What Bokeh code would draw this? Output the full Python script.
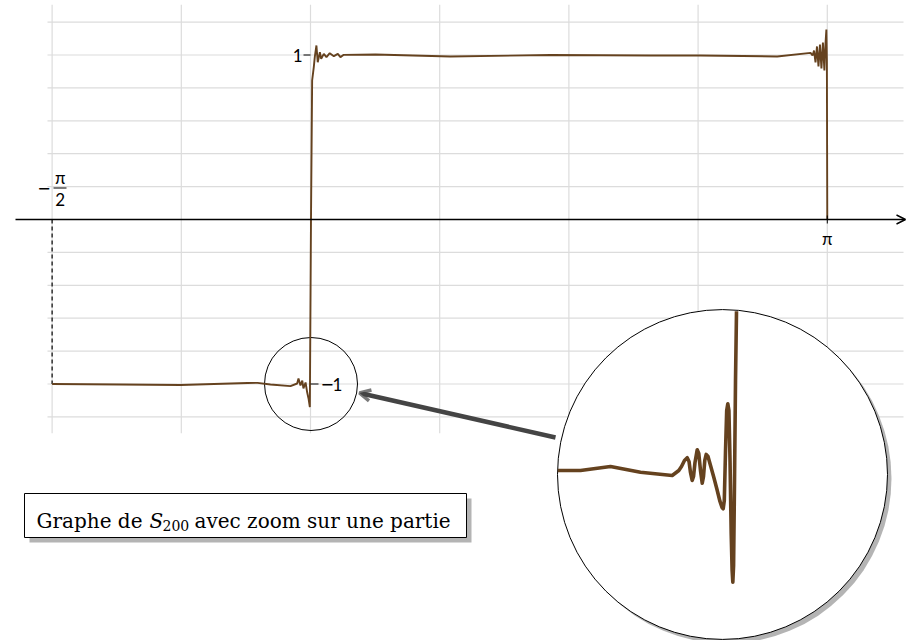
from bokeh.plotting import figure
from bokeh.models import Range1d, Arrow, OpenHead
from bokeh.core.properties import value
from bokeh.embed import file_html
from bokeh.resources import INLINE

# ---------------- data ----------------
# Partial Fourier sum S_200 (main curve), x in radians
curve_x = [-1.5708, -1.155, -0.790, -0.383, -0.322, -0.243, -0.122, -0.081, -0.073, -0.061,
           -0.050, -0.043, -0.030, -0.020, -0.012, -0.004, 0.003, 0.010, 0.020, 0.026,
           0.036, 0.044, 0.057, 0.065, 0.081, 0.097, 0.117, 0.142, 0.166, 0.182,
           0.202, 0.395, 0.851, 1.459, 2.067, 2.371, 2.837, 3.040, 3.052, 3.061,
           3.070, 3.079, 3.088, 3.097, 3.106, 3.115, 3.124, 3.130, 3.136, 3.139, 3.1416]
curve_y = [-1.000, -1.003, -1.006, -0.994, -0.993, -1.003, -1.013, -0.997, -0.967, -1.009,
           -0.979, -1.027, -0.991, -1.052, -1.088, -1.141, 0.000, 0.845, 0.926, 0.987,
           1.058, 0.956, 1.017, 0.977, 1.007, 0.987, 1.011, 0.993, 1.007, 0.987,
           1.001, 1.003, 0.991, 1.000, 0.997, 0.997, 0.991, 1.013, 0.997, 1.027,
           0.955, 1.052, 0.930, 1.064, 0.918, 1.076, 0.906, 1.058, 1.155, 0.967, 0.000]

# Finer detail of S_200 near the jump at 0 (shown magnified in the lens)
zoom_x = [-0.3039, -0.2650, -0.2137, -0.1623, -0.1080, -0.0967, -0.0921, -0.0870, -0.0823, -0.0792,
          -0.0767, -0.0738, -0.0715, -0.0690, -0.0652, -0.0625, -0.0596, -0.0566, -0.0544, -0.0522,
          -0.0498, -0.0467, -0.0424, -0.0368, -0.0313, -0.0262, -0.0227, -0.0207, -0.0188, -0.0167,
          -0.0147, -0.0128, -0.0109, -0.0090, -0.0070, -0.0054, -0.0042, -0.0029, -0.0013, 0.0004,
          0.0021]
zoom_y = [-0.9967, -0.9967, -0.9899, -0.9997, -1.0053, -0.9967, -0.9899, -0.9796, -0.9750, -0.9813,
          -1.0002, -1.0139, -1.0070, -0.9830, -0.9613, -0.9676, -0.9967, -1.0185, -1.0070, -0.9796,
          -0.9693, -0.9728, -0.9882, -1.0082, -1.0293, -1.0498, -1.0601, -1.0623, -1.0481, -0.9625,
          -0.8940, -0.8825, -0.8940, -0.9796, -1.1046, -1.1680, -1.1880, -1.1594, -1.0139, -0.8426,
          -0.7240]

PI = 3.14159265
grid_x = [-PI / 2, -PI / 4, 0.0, PI / 4, PI / 2, 3 * PI / 4, PI]
grid_y = [-1.2, -1.0, -0.8, -0.6, -0.4, -0.2, 0.2, 0.4, 0.6, 0.8, 1.0, 1.2]

caption_parts = ["Graphe de", "S", "200", "avec zoom sur une partie"]

# ---------------- geometry helpers ----------------
W, H = 906, 640
PX = 164.5             # pixels per unit (both axes)
OX, OY = 310.0, 219.0  # pixel of the origin in the picture


def X(px):
    return (px - OX) / PX


def Y(py):
    return (OY - py) / PX


p = figure(width=W, height=H, output_backend="svg", toolbar_location=None,
           x_range=Range1d(X(0), X(W)), y_range=Range1d(Y(H), Y(0)),
           x_axis_location=None, y_axis_location=None, min_border=0,
           outline_line_color=None, background_fill_color="white",
           border_fill_color="white")
p.grid.visible = False

GRID = "#dcdcdc"
BROWN = "#65421f"

# grid
p.segment(x0=[X(47)] * len(grid_y), y0=grid_y, x1=[X(903)] * len(grid_y), y1=grid_y,
          line_color=GRID, line_width=1.2)
p.segment(x0=grid_x, y0=[-1.3] * len(grid_x), x1=grid_x, y1=[1.305] * len(grid_x),
          line_color=GRID, line_width=1.2)

# small lens circle
p.circle(x=[X(310.5)], y=[Y(383.5)], radius=46.5 / PX, fill_color=None,
         line_color="black", line_width=1)

# dashed line at -pi/2
p.segment(x0=[-PI / 2], y0=[0], x1=[-PI / 2], y1=[curve_y[0]], line_color="black",
          line_width=1.2, line_dash="4 3")

# main curve
p.line(curve_x, curve_y, line_color=BROWN, line_width=1.9)

# x axis with arrow
p.add_layout(Arrow(x_start=X(15), y_start=0, x_end=X(905), y_end=0, line_color="black",
                   line_width=1.6, end=OpenHead(size=9, line_color="black", line_width=1.4)))
p.segment(x0=[PI], y0=[Y(215)], x1=[PI], y1=[Y(223)], line_color="black", line_width=1)

# y ticks at 1 and -1
p.segment(x0=[X(303), 0], y0=[1, -1], x1=[0, X(318)], y1=[1, -1], line_color="black",
          line_width=1)

LBL = value("Lato")
MIN = value("DejaVu Sans")
p.text(x=[X(302)], y=[1], text=["1"], text_font=LBL, text_font_size="17px",
       text_align="right", text_baseline="middle", text_color="black")
p.text(x=[X(320)], y=[-1], text=["\u2212"], text_font=MIN, text_font_size="16px",
       text_align="left", text_baseline="middle", text_color="black")
p.text(x=[X(332)], y=[-1], text=["1"], text_font=LBL, text_font_size="17px",
       text_align="left", text_baseline="middle", text_color="black")
p.text(x=[PI], y=[Y(238)], text=["\u03c0"], text_font=LBL, text_font_size="17px",
       text_align="center", text_baseline="middle", text_color="black")
# -pi/2 label
p.text(x=[X(43.5)], y=[Y(187.5)], text=["\u2212"], text_font=MIN, text_font_size="16px",
       text_align="center", text_baseline="middle", text_color="black")
p.text(x=[X(59.7)], y=[Y(177)], text=["\u03c0"], text_font=LBL, text_font_size="17px",
       text_align="center", text_baseline="middle", text_color="black")
p.text(x=[X(59.7)], y=[Y(199)], text=["2"], text_font=LBL, text_font_size="17px",
       text_align="center", text_baseline="middle", text_color="black")
p.segment(x0=[X(53)], y0=[Y(187.5)], x1=[X(66)], y1=[Y(187.5)], line_color="black",
          line_width=1)

# big magnified circle
M = 3.55
scx, scy = X(306.4), Y(384.1)   # centre of magnified area
bcx, bcy = X(722), Y(474)       # centre of lens
R = 165 / PX
p.circle(x=[bcx + 4 / PX], y=[bcy - 4 / PX], radius=R, fill_color="#b4b4b4",
         line_color=None)
p.circle(x=[bcx], y=[bcy], radius=R, fill_color="white", line_color="black",
         line_width=1)
zx = [bcx + M * (v - scx) for v in zoom_x]
zy = [bcy + M * (v - scy) for v in zoom_y]
p.line(zx, zy, line_color=BROWN, line_width=3.6, line_join="round")

# connecting arrow
p.add_layout(Arrow(x_start=X(555), y_start=Y(437), x_end=X(359), y_end=Y(392.5),
                   line_color="#444444", line_width=4.5,
                   end=OpenHead(size=11, line_color="#7a7a7a", line_width=3.5)))

# caption box with shadow
p.quad(left=[X(29)], right=[X(471)], top=[Y(498)], bottom=[Y(542)],
       fill_color="#b4b4b4", line_color=None)
p.quad(left=[X(24)], right=[X(466)], top=[Y(493)], bottom=[Y(537)],
       fill_color="white", line_color="black", line_width=1)
SER = value("DejaVu Serif")
p.text(x=[X(36)], y=[Y(520)], text=[caption_parts[0]], text_font=SER,
       text_font_size="20px", text_baseline="alphabetic", text_color="black")
p.text(x=[X(149)], y=[Y(520)], text=[caption_parts[1]], text_font=SER,
       text_font_size="20px", text_font_style="italic", text_baseline="alphabetic",
       text_color="black")
p.text(x=[X(162)], y=[Y(525)], text=[caption_parts[2]], text_font=SER,
       text_font_size="14px", text_baseline="alphabetic", text_color="black")
p.text(x=[X(194)], y=[Y(520)], text=[caption_parts[3]], text_font=SER,
       text_font_size="20px", text_baseline="alphabetic", text_color="black")

open("out.html", "w").write(file_html(p, INLINE))
